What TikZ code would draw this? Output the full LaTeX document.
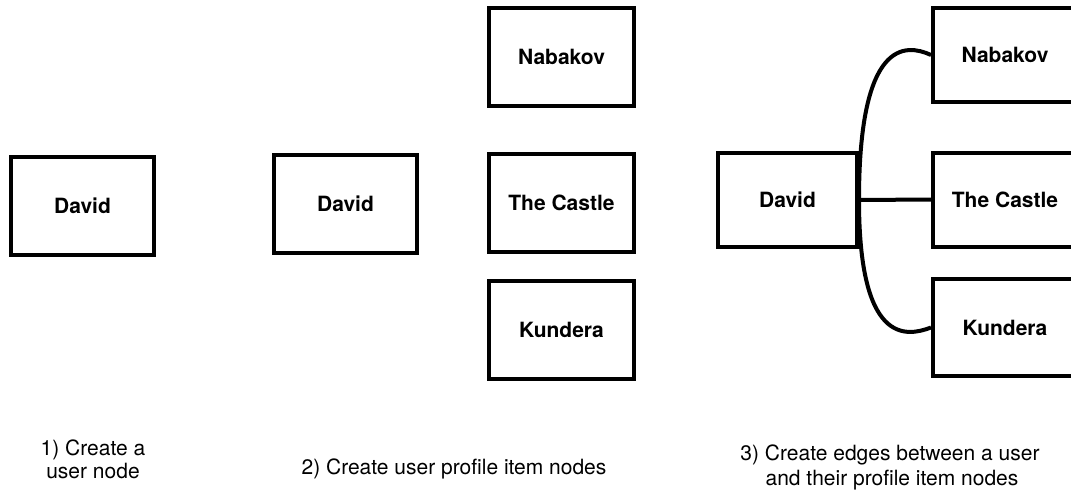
\documentclass[tikz,border=0pt]{standalone}
\usepackage{fontspec}
\setmainfont{TeX Gyre Heros}
\begin{document}
\begin{tikzpicture}[x=1pt,y=-1pt,
  box/.style={draw, line width=4pt, rectangle, inner sep=0pt,
    minimum width=143pt, minimum height=98pt,
    font=\fontsize{21}{24}\selectfont\bfseries},
  smallbox/.style={box, minimum height=94pt},
  link/.style={line width=4pt},
  caption/.style={anchor=base, inner sep=0pt, font=\fontsize{21}{25}\selectfont}]
\useasboundingbox (0,0) rectangle (1071,493);
\clip (0,0) rectangle (1071,493);

% step 1: a single user node
\node[box] (d1) at (82.5,206) {David};

% step 2: the user plus its profile items
\node[box] (d2) at (345.5,204) {David};
\node[box, minimum width=145pt] (n2) at (561.5,57) {Nabakov};
\node[box, minimum width=145pt] (c2) at (561.5,202.5) {The Castle};
\node[box, minimum width=145pt] (k2) at (561.5,329.5) {Kundera};

% step 3: the user linked to each profile item
\node[smallbox, minimum width=139pt] (d3) at (787.5,200) {David};
\node[smallbox, minimum width=144pt] (n3) at (1005,55) {Nabakov};
\node[smallbox, minimum width=144pt] (c3) at (1005,199.5) {The Castle};
\node[smallbox, minimum width=144pt, minimum height=97pt] (k3) at (1005,327.5) {Kundera};

\draw[link] (d3.east) -- (c3.west);
\draw[link] (d3.east) .. controls +(0,-160) and +(-26,-12) .. (n3.west);
\draw[link] (d3.east) .. controls +(0,143) and +(-26,10) .. (k3.west);

% captions, one node per line
\node[caption] (t1a) at (93,455) {1) Create a};
\node[caption] (t1b) at (93,478) {user node};
\node[caption] (t2)  at (454,474) {2) Create user profile item nodes};
\node[caption] (t3a) at (890,460) {3) Create edges between a user};
\node[caption] (t3b) at (892,485) {and their profile item nodes};
\end{tikzpicture}
\end{document}
